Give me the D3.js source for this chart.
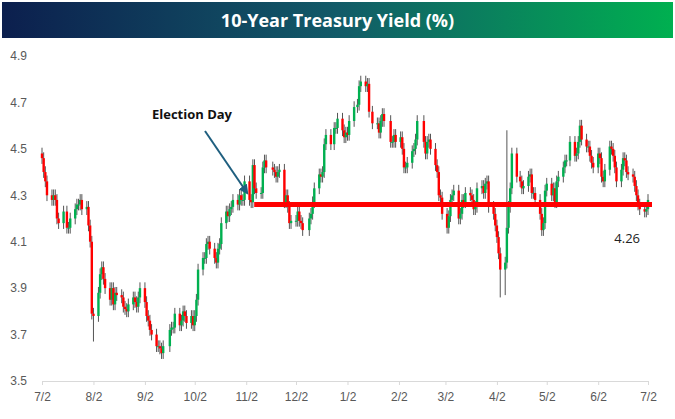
<!DOCTYPE html>
<html><head><meta charset="utf-8">
<script src="https://cdn.jsdelivr.net/npm/d3@7"></script>
<style>body{margin:0;background:#fff}svg{font-family:"Open Sans",sans-serif}</style>
</head><body>
<script>
// daily closes by month
var months = ["2024-07","2024-08","2024-09","2024-10","2024-11","2024-12","2025-01","2025-02","2025-03","2025-04","2025-05","2025-06","2025-07"];
var closes = [
  [4.46,4.40,4.36,4.30,4.28,4.30,4.28,4.20,4.18,4.23,4.16,4.16,4.20,4.24,4.26,4.26,4.28,4.24,4.25,4.17,4.10],
  [3.79,3.78,3.88,3.96,3.99,3.94,3.90,3.85,3.90,3.83,3.88,3.87,3.86,3.82,3.81,3.80,3.83,3.86,3.84,3.82,3.86,3.90],
  [3.84,3.78,3.76,3.72,3.70,3.65,3.65,3.64,3.62,3.65,3.72,3.73,3.73,3.79,3.74,3.76,3.80,3.78,3.75,3.78],
  [3.74,3.78,3.85,3.98,4.03,4.03,4.09,4.10,4.07,4.03,4.01,4.07,4.09,4.18,4.23,4.21,4.24,4.25,4.28,4.26,4.30,4.28,4.28],
  [4.36,4.28,4.27,4.43,4.33,4.31,4.31,4.42,4.45,4.42,4.41,4.40,4.38,4.40,4.41,4.27,4.30,4.25,4.18,4.19],
  [4.19,4.23,4.19,4.18,4.15,4.20,4.22,4.27,4.33,4.39,4.38,4.40,4.52,4.56,4.52,4.59,4.59,4.63,4.58,4.55],
  [4.57,4.56,4.62,4.68,4.69,4.77,4.79,4.77,4.78,4.66,4.61,4.61,4.57,4.62,4.65,4.62,4.53,4.53,4.56,4.53],
  [4.55,4.50,4.42,4.42,4.44,4.49,4.50,4.54,4.62,4.53,4.48,4.53,4.54,4.50,4.43,4.40,4.30,4.29,4.22],
  [4.16,4.21,4.28,4.30,4.32,4.20,4.22,4.28,4.27,4.31,4.30,4.28,4.24,4.25,4.33,4.34,4.31,4.35,4.36,4.25,4.22],
  [4.17,4.12,4.05,3.98,4.01,4.16,4.25,4.33,4.48,4.38,4.36,4.33,4.34,4.38,4.39,4.31,4.31,4.28,4.22,4.15,4.18],
  [4.32,4.35,4.30,4.33,4.27,4.36,4.38,4.42,4.45,4.45,4.53,4.47,4.48,4.53,4.60,4.54,4.51,4.51,4.47,4.44,4.42],
  [4.48,4.46,4.38,4.36,4.41,4.51,4.50,4.47,4.42,4.36,4.41,4.46,4.45,4.40,4.39,4.38,4.34,4.30,4.26,4.24,4.23],
  [4.24,4.28]
];
var firstOpen = 4.48;
var spikes = [["2024-08-02",3.67],["2025-04-04",3.86],["2025-04-07",3.87],["2025-04-08",4.58]];
var yTicks = [3.5,3.7,3.9,4.1,4.3,4.5,4.7,4.9];
var xTicks = ["2024-07-02","2024-08-02","2024-09-02","2024-10-02","2024-11-02","2024-12-02","2025-01-02","2025-02-02","2025-03-02","2025-04-02","2025-05-02","2025-06-02","2025-07-02"];
var level = 4.26, electionDay = "2024-11-05";

var parse = d3.timeParse("%Y-%m-%d");
// spread each month's closes over that month's weekdays
var data = [], prev = firstOpen;
months.forEach(function(m, mi) {
  var start = parse(m + "-01"), end = d3.timeMonth.offset(start, 1);
  if (mi == 0) start = parse("2024-07-02");
  if (mi == months.length - 1) end = parse("2025-07-03");
  var days = d3.timeDay.range(start, end).filter(function(d){ return d.getDay() > 0 && d.getDay() < 6; });
  var n = closes[mi].length;
  closes[mi].forEach(function(c, i) {
    var d = days[n > 1 ? Math.round(i * (days.length - 1) / (n - 1)) : i];
    data.push({date: d, open: prev, close: c, high: Math.max(prev, c) + 0.025, low: Math.min(prev, c) - 0.025});
    prev = c;
  });
});
spikes.forEach(function(s) {
  var t = parse(s[0]), best = d3.least(data, function(d){ return Math.abs(d.date - t); });
  if (s[1] < best.low) best.low = s[1]; else best.high = s[1];
});

var W = 675, H = 419;
var svg = d3.select("body").append("svg").attr("width", W).attr("height", H);

var grad = svg.append("defs").append("linearGradient").attr("id", "tg");
grad.append("stop").attr("offset", "0%").attr("stop-color", "#0c1f4e");
grad.append("stop").attr("offset", "50%").attr("stop-color", "#125a68");
grad.append("stop").attr("offset", "100%").attr("stop-color", "#00b050");
svg.append("rect").attr("x", 2).attr("y", 2).attr("width", W - 4).attr("height", 36).attr("fill", "url(#tg)");
svg.append("text").attr("x", W / 2).attr("y", 27).attr("text-anchor", "middle")
  .attr("fill", "#fff").attr("font-size", "18px").attr("font-weight", "bold")
  .text("10-Year Treasury Yield (%)");

var x = d3.scaleTime().domain([parse("2024-07-02"), parse("2025-07-02")]).range([42, 648]);
var y = d3.scaleLinear().domain([3.5, 4.9]).range([381, 56]);

svg.append("g").attr("transform", "translate(0,381)")
  .call(d3.axisBottom(x).tickValues(xTicks.map(parse)).tickFormat(d3.timeFormat("%-m/%-d")).tickSize(4))
  .call(function(g){
    g.select(".domain").attr("stroke", "#d9d9d9");
    g.selectAll(".tick line").attr("stroke", "#d9d9d9");
    g.selectAll("text").attr("fill", "#595959").attr("font-size", "12px").attr("dy", "1.1em");
  });
svg.append("g").attr("transform", "translate(30,0)")
  .call(d3.axisLeft(y).tickValues(yTicks).tickFormat(d3.format(".1f")).tickSize(0))
  .call(function(g){
    g.select(".domain").remove();
    g.selectAll("text").attr("fill", "#595959").attr("font-size", "12px");
  });

var c = svg.append("g");
c.selectAll("line.w").data(data).enter().append("line")
  .attr("x1", function(d){ return x(d.date); }).attr("x2", function(d){ return x(d.date); })
  .attr("y1", function(d){ return y(d.high); }).attr("y2", function(d){ return y(d.low); })
  .attr("stroke", "#555").attr("stroke-width", 1);
c.selectAll("rect").data(data).enter().append("rect")
  .attr("x", function(d){ return x(d.date) - 1.2; }).attr("width", 2.4)
  .attr("y", function(d){ return y(Math.max(d.open, d.close)); })
  .attr("height", function(d){ return Math.max(1, Math.abs(y(d.open) - y(d.close))); })
  .attr("fill", function(d){ return d.close >= d.open ? "#00b050" : "#ff0000"; });

svg.append("line").attr("x1", x(parse(electionDay)) + 3).attr("x2", x(parse("2025-07-02")) + 4)
  .attr("y1", y(level)).attr("y2", y(level)).attr("stroke", "#ff0000").attr("stroke-width", 5);
svg.append("text").attr("x", 640).attr("y", 243).attr("text-anchor", "end")
  .attr("font-size", "13px").attr("fill", "#222").text(level.toFixed(2));

svg.append("defs").append("marker").attr("id", "ah").attr("viewBox", "0 0 10 10")
  .attr("refX", 8).attr("refY", 5).attr("markerWidth", 5).attr("markerHeight", 5).attr("orient", "auto")
  .append("path").attr("d", "M0,0L10,5L0,10z").attr("fill", "#1f5f7f");
svg.append("line").attr("x1", 205).attr("y1", 131).attr("x2", x(parse(electionDay)) - 4).attr("y2", 193)
  .attr("stroke", "#1f5f7f").attr("stroke-width", 2).attr("marker-end", "url(#ah)");
svg.append("text").attr("x", 192).attr("y", 119).attr("text-anchor", "middle")
  .attr("font-size", "13px").attr("font-weight", "bold").attr("fill", "#111").text("Election Day");
</script>
</body></html>
